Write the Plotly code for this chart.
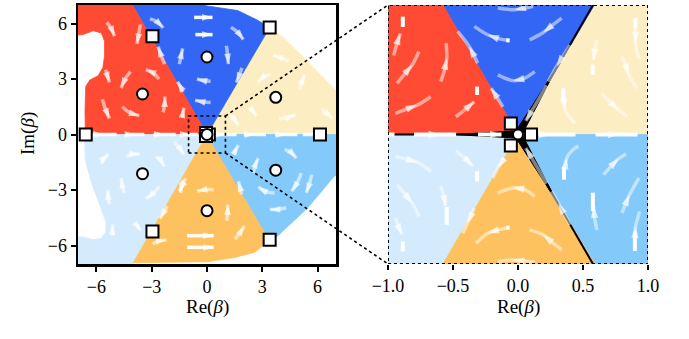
import plotly.graph_objects as go

# ---------------- data ----------------
# region colours
COL_RED = "#FF4B33"
COL_BLUE = "#3366F5"
COL_CREAM = "#FDEDC3"
COL_LIGHT = "#D3EBFC"
COL_ORANGE = "#FDC25F"
COL_MID = "#83C9FA"

# region outlines (data units)
CREAM_X = [0, 7.5, 7.5, 6.9, 5.7, 4.2, 3.4]
CREAM_Y = [0, 0, 1.9, 2.47, 3.7, 5.2, 5.79]
BLUE_X = [0, 3.4, 2.7, 1.67, 0.0, -1.5, -4.33]
BLUE_Y = [0, 5.79, 6.2, 6.7, 6.95, 7.5, 7.5]
RED_X = [0, -4.33, -7.5, -7.5, -6.72, -6.18, -5.73, -5.56, -5.56, -5.65, -5.91, -6.36, -6.58, -6.62, -6.6]
RED_Y = [0, 7.5, 7.5, 5.35, 5.4, 5.61, 5.49, 5.04, 4.24, 3.62, 3.17, 2.94, 2.6, 1.3, 0]
LIGHT_X = [0, -6.6, -6.63, -6.6, -6.27, -5.82, -5.47, -5.5, -5.75, -6.2, -6.7, -7.5, -7.5, -4.33]
LIGHT_Y = [0, 0, -0.5, -1.37, -2.62, -3.87, -4.76, -5.3, -5.62, -5.68, -5.55, -5.5, -7.5, -7.5]
ORANGE_X = [0, -4.0, -2.0, 0.0, 1.5, 2.6, 3.4]
ORANGE_Y = [0, -6.93, -6.9, -6.88, -6.65, -6.36, -5.69]
MID_X = [0, 3.4, 3.85, 5.47, 6.9, 7.5, 7.5]
MID_Y = [0, -5.69, -5.47, -3.96, -2.26, -1.9, 0]

# critical points
CIRCLE_X = [-3.5, 0.0, 3.73, -3.5, 0.0, 3.73, 0.0]
CIRCLE_Y = [2.19, 4.19, 2.01, -2.12, -4.12, -1.93, 0.0]
SQUARE_X = [0.1, -0.055, -0.055, 6.13, 3.4, -2.96, -6.58, -2.96, 3.4]
SQUARE_Y = [0.0, 0.085, -0.085, 0.0, 5.79, 5.31, 0.0, -5.24, -5.69]

# black lines in the zoom panel: (end x, end y)
THIMBLE_ENDS = [(-1.05, 0.0), (0.6, 1.04), (0.6, -1.04)]
THIMBLE_WEDGE = [(-0.5, 0.0), (0.3, 0.52), (0.3, -0.52)]

# streamlines: (points, index of arrow head)
LEFT_STREAMS = [
    # red
    ([(-5.45, 6.05), (-5.2, 5.75), (-5.02, 5.31)], -1),
    ([(-3.62, 5.95), (-3.7, 5.45), (-3.8, 4.9)], -1),
    ([(-2.3, 3.8), (-2.5, 4.3), (-2.65, 4.75)], -1),
    ([(-5.5, 3.5), (-5.4, 3.15), (-5.29, 2.82)], -1),
    ([(-4.15, 3.4), (-4.45, 3.0), (-4.66, 2.51)], -1),
    ([(-2.6, 3.0), (-2.95, 3.35), (-3.32, 3.5)], -1),
    ([(-2.38, 1.2), (-2.3, 1.6), (-2.29, 2.05)], -1),
    ([(-4.6, 1.5), (-4.15, 1.15), (-3.67, 1.03)], -1),
    ([(-5.68, 1.9), (-5.5, 1.35), (-5.29, 0.86)], -1),
    ([(-1.3, 2.3), (-1.45, 2.6), (-1.6, 2.85)], -1),
    ([(-1.34, 0.95), (-1.3, 1.2), (-1.25, 1.45)], -1),
    # blue
    ([(1.3, 5.8), (1.7, 5.5), (1.97, 5.13)], -1),
    ([(1.05, 4.8), (1.12, 4.3), (1.16, 3.8)], -1),
    ([(-1.5, 3.8), (-1.42, 4.2), (-1.32, 4.65)], -1),
    ([(-3.1, 6.25), (-2.7, 6.1), (-2.38, 5.76)], -1),
    ([(0.2, 2.88), (-0.2, 2.92), (-0.55, 3.0)], -1),
    ([(0.2, 1.73), (-0.2, 1.76), (-0.65, 1.85)], -1),
    ([(1.9, 3.6), (1.75, 3.2), (1.6, 2.8)], -1),
    # cream
    ([(4.45, 3.95), (4.0, 4.15), (3.58, 4.28)], -1),
    ([(3.45, 3.25), (3.05, 3.1), (2.78, 2.82)], -1),
    ([(5.0, 2.4), (5.15, 2.85), (5.29, 3.26)], -1),
    ([(3.9, 0.85), (4.35, 0.9), (4.8, 1.07)], -1),
    ([(2.38, 1.5), (2.5, 1.25), (2.69, 1.0)], -1),
    ([(1.3, 1.05), (1.5, 0.8), (1.7, 0.5)], -1),
    ([(6.2, 1.35), (6.5, 1.15), (6.8, 0.86)], -1),
    # light blue
    ([(-5.75, -1.6), (-5.55, -1.25), (-5.32, -1.07)], -1),
    ([(-4.39, -1.2), (-4.0, -1.05), (-3.64, -1.05)], -1),
    ([(-2.78, -1.19), (-2.5, -1.4), (-2.33, -1.73)], -1),
    ([(-1.79, -0.39), (-1.5, -0.7), (-1.25, -1.11)], -1),
    ([(-4.48, -3.16), (-4.6, -2.75), (-4.66, -2.35)], -1),
    ([(-2.6, -2.8), (-2.95, -3.2), (-3.32, -3.48)], -1),
    ([(-5.29, -3.78), (-5.36, -3.4), (-5.38, -2.98)], -1),
    ([(-1.16, -2.35), (-1.3, -2.7), (-1.52, -3.07)], -1),
    ([(-2.15, -3.87), (-2.35, -4.2), (-2.56, -4.55)], -1),
    ([(-5.11, -5.47), (-5.13, -5.15), (-5.11, -4.85)], -1),
    ([(-3.8, -4.85), (-3.7, -5.05), (-3.58, -5.2)], -1),
    # orange
    ([(-2.96, -5.92), (-2.6, -5.75), (-2.2, -5.7)], -1),
    ([(0.36, -2.98), (-0.1, -2.98), (-0.54, -3.07)], -1),
    ([(1.08, -4.67), (1.12, -4.2), (1.13, -3.78)], -1),
    ([(-1.3, -2.45), (-1.38, -2.8), (-1.43, -3.16)], -1),
    ([(1.52, -5.65), (1.8, -5.3), (2.03, -4.94)], -1),
    ([(1.88, -3.24), (1.8, -2.9), (1.7, -2.53)], -1),
    # mid blue
    ([(1.43, -1.1), (1.55, -0.85), (1.7, -0.57)], -1),
    ([(2.51, -2.09), (2.62, -1.65), (2.78, -1.28)], -1),
    ([(4.21, -0.8), (4.55, -0.95), (4.84, -1.28)], -1),
    ([(5.11, -2.09), (4.9, -2.6), (4.6, -3.07)], -1),
    ([(3.67, -3.16), (3.2, -3.1), (2.78, -2.83)], -1),
    ([(4.3, -3.96), (3.85, -4.05), (3.41, -4.05)], -1),
    ([(5.68, -2.17), (5.55, -2.7), (5.38, -3.16)], -1),
]
LEFT_SOLID = [
    ([(-0.7, 6.33), (-0.2, 6.33), (0.3, 6.33)], -1),
    ([(-0.63, 5.4), (-0.15, 5.4), (0.3, 5.4)], -1),
    ([(-1.08, -5.47), (-0.35, -5.47), (0.36, -5.47)], -1),
    ([(-1.08, -6.1), (-0.35, -6.1), (0.36, -6.1)], -1),
    ([(-6.3, 0), (-5.6, 0), (-4.9, 0)], 1),
    ([(-4.4, 0), (-3.9, 0), (-3.4, 0)], 1),
    ([(-2.9, 0), (-2.3, 0), (-1.7, 0)], 1),
    ([(-1.3, 0), (-0.9, 0), (-0.5, 0)], 1),
    ([(0.5, 0), (1.0, 0), (1.6, 0)], 1),
    ([(2.0, 0), (2.6, 0), (3.2, 0)], 1),
    ([(3.7, 0), (4.3, 0), (4.9, 0)], 1),
    ([(5.2, 0), (5.5, 0), (5.8, 0)], None),
]
RIGHT_STREAMS = [
    # red
    ([(-0.956, 0.61), (-0.935, 0.69), (-0.905, 0.78)], -1),
    ([(-0.93, 0.395), (-0.87, 0.47), (-0.814, 0.537), (-0.762, 0.641)], 2),
    ([(-0.594, 0.408), (-0.565, 0.5), (-0.548, 0.589), (-0.553, 0.705)], 2),
    ([(-0.943, 0.163), (-0.86, 0.195), (-0.775, 0.227), (-0.672, 0.292)], 2),
    ([(-0.478, 0.137), (-0.41, 0.19), (-0.336, 0.253)], -1),
    ([(-0.31, 0.55), (-0.375, 0.68), (-0.465, 0.796)], 1),
    ([(-0.116, 0.214), (-0.16, 0.285), (-0.207, 0.357)], 2),
    # blue
    ([(0.116, 0.99), (-0.026, 0.964), (-0.155, 0.977)], 1),
    ([(-0.065, 0.726), (-0.15, 0.74), (-0.233, 0.77), (-0.336, 0.835)], 2),
    ([(0.336, 0.899), (0.26, 0.84), (0.194, 0.788), (0.09, 0.731)], 2),
    ([(0.129, 0.486), (0.04, 0.43), (-0.039, 0.416), (-0.155, 0.46)], 2),
    ([(0.40, 0.69), (0.35, 0.61), (0.297, 0.525), (0.233, 0.408)], 2),
    # cream
    ([(0.904, 0.83), (0.904, 0.705), (0.915, 0.64), (0.93, 0.589)], 1),
    ([(0.607, 0.731), (0.59, 0.65), (0.581, 0.576)], -1),
    ([(0.80, 0.60), (0.83, 0.53), (0.853, 0.46), (0.917, 0.357)], 2),
    ([(0.349, 0.3), (0.362, 0.189), (0.4, 0.13), (0.439, 0.085)], 1),
    ([(0.646, 0.318), (0.71, 0.25), (0.775, 0.189), (0.84, 0.137)], 2),
    # light blue
    ([(-0.943, -0.168), (-0.86, -0.19), (-0.775, -0.214), (-0.672, -0.284)], 2),
    ([(-0.478, -0.129), (-0.41, -0.18), (-0.349, -0.245)], -1),
    ([(-0.93, -0.388), (-0.87, -0.46), (-0.814, -0.53), (-0.762, -0.633)], 2),
    ([(-0.594, -0.40), (-0.57, -0.48), (-0.556, -0.556)], -1),
    ([(-0.943, -0.646), (-0.92, -0.71), (-0.891, -0.775)], -1),
    ([(-0.103, -0.181), (-0.155, -0.258), (-0.194, -0.336)], 1),
    ([(-0.336, -0.568), (-0.388, -0.685), (-0.426, -0.762)], 1),
    # orange
    ([(0.129, -0.478), (0.04, -0.42), (-0.039, -0.413), (-0.155, -0.452)], 2),
    ([(-0.065, -0.718), (-0.15, -0.735), (-0.233, -0.762), (-0.323, -0.84)], 2),
    ([(0.336, -0.891), (0.26, -0.83), (0.194, -0.775), (0.09, -0.736)], 2),
    ([(0.129, -0.987), (-0.039, -0.969), (-0.155, -0.982)], 1),
    ([(0.40, -0.698), (0.31, -0.53), (0.258, -0.439)], 1),
    # mid blue
    ([(0.354, -0.30), (0.375, -0.181), (0.42, -0.12), (0.465, -0.09)], 1),
    ([(0.659, -0.31), (0.72, -0.24), (0.775, -0.186), (0.832, -0.15)], 2),
    ([(0.607, -0.736), (0.59, -0.65), (0.581, -0.556)], -1),
    ([(0.80, -0.607), (0.83, -0.53), (0.858, -0.465), (0.93, -0.336)], 2),
    ([(0.899, -0.9), (0.9, -0.8), (0.904, -0.711), (0.92, -0.65), (0.935, -0.594)], 2),
    # along the black lines
    ([(0.22, 0.38), (0.14, 0.24), (0.06, 0.105)], -1),
    ([(0.22, -0.38), (0.14, -0.24), (0.06, -0.105)], -1),
]
RIGHT_SOLID = [
    ([(-0.886, 0.83), (-0.886, 0.91)], None),
    ([(-0.315, 0.305), (-0.315, 0.37)], None),
    ([(0.904, 0.9), (0.904, 0.82)], None),
    ([(0.574, 0.54), (0.574, 0.46)], None),
    ([(0.349, 0.357), (0.349, 0.24)], None),
    ([(-0.065, 0.726), (-0.09, 0.728)], None),
    ([(-0.315, -0.284), (-0.315, -0.362)], None),
    ([(-0.548, -0.56), (-0.548, -0.70)], None),
    ([(-0.886, -0.827), (-0.886, -0.904)], None),
    ([(-0.065, -0.718), (-0.09, -0.72)], None),
    ([(0.354, -0.25), (0.354, -0.349)], None),
    ([(0.576, -0.59), (0.576, -0.45)], None),
    ([(0.899, -0.9), (0.899, -0.75)], None),
    ([(-1.0, 0), (-0.95, 0)], None),
    ([(-0.8, 0), (-0.6, 0), (-0.476, 0)], 1),
    ([(-0.308, 0), (-0.2, 0), (-0.127, 0)], -1),
    ([(0.158, 0), (0.25, 0), (0.442, 0)], 1),
    ([(0.597, 0), (0.78, 0), (0.92, 0)], 1),
]

X_TICKS_L = [-6, -3, 0, 3, 6]
X_TICKTEXT_L = ["\u22126", "\u22123", "0", "3", "6"]
X_TICKS_R = [-1.0, -0.5, 0.0, 0.5, 1.0]
X_TICKTEXT_R = ["\u22121.0", "\u22120.5", "0.0", "0.5", "1.0"]

# ---------------- figure ----------------
FONT = "Liberation Serif"
W, H = 689, 339


def fx(px):
    return px / W


def fy(py):
    return 1 - py / H


DOM_L = [fx(78), fx(336)]
DOM_R = [fx(388), fx(648)]
DOM_Y = [fy(264), fy(5)]
RANGE_L = [-7, 7]
RANGE_R = [-1, 1]

fig = go.Figure()
LEFT = dict(xaxis="x", yaxis="y")
RIGHT = dict(xaxis="x2", yaxis="y2")

SECTORS = [(CREAM_X, CREAM_Y, COL_CREAM), (BLUE_X, BLUE_Y, COL_BLUE),
           (RED_X, RED_Y, COL_RED), (LIGHT_X, LIGHT_Y, COL_LIGHT),
           (ORANGE_X, ORANGE_Y, COL_ORANGE), (MID_X, MID_Y, COL_MID)]

for panel in (LEFT, RIGHT):
    for xs, ys, col in SECTORS:
        fig.add_trace(go.Scatter(x=xs + [xs[0]], y=ys + [ys[0]], mode="lines",
                                 fill="toself", fillcolor=col,
                                 line=dict(color=col, width=0.8),
                                 hoverinfo="skip", showlegend=False, **panel))

# black lines near the origin (zoom panel)
bx, by = [], []
for ex, ey in THIMBLE_ENDS:
    bx += [0, ex, None]
    by += [0, ey, None]
fig.add_trace(go.Scatter(x=bx, y=by, mode="lines", line=dict(color="black", width=2),
                         hoverinfo="skip", showlegend=False, **RIGHT))
for ex, ey in THIMBLE_WEDGE:
    n = (ex ** 2 + ey ** 2) ** 0.5
    px, py = -ey / n * 0.028, ex / n * 0.028
    fig.add_trace(go.Scatter(x=[px, ex, -px, px], y=[py, ey, -py, py], mode="lines",
                             fill="toself", fillcolor="black", line=dict(color="black", width=1),
                             hoverinfo="skip", showlegend=False, **RIGHT))


def add_streams(streams, panel, width, opacity, arrow_size, arrow_opacity):
    xs, ys, ax, ay, sz = [], [], [], [], []
    for pts, k in streams:
        xs += [p[0] for p in pts] + [None]
        ys += [p[1] for p in pts] + [None]
        if k is not None:
            k = k % len(pts)
            p0, p1 = pts[k - 1], pts[k]
            ax += [p0[0], p1[0]]
            ay += [p0[1], p1[1]]
            sz += [0, arrow_size]
    fig.add_trace(go.Scatter(x=xs, y=ys, mode="lines",
                             line=dict(color=f"rgba(255,255,255,{opacity})", width=width,
                                       shape="spline"),
                             hoverinfo="skip", showlegend=False, **panel))
    if ax:
        fig.add_trace(go.Scatter(x=ax, y=ay, mode="markers",
                                 marker=dict(symbol="arrow", size=sz, angleref="previous",
                                             color=f"rgba(255,255,255,{arrow_opacity})",
                                             line=dict(width=0)),
                                 hoverinfo="skip", showlegend=False, **panel))


add_streams(LEFT_STREAMS, LEFT, 3.5, 0.55, 11, 0.95)
add_streams(LEFT_SOLID, LEFT, 3.5, 0.95, 11, 1.0)
add_streams(RIGHT_STREAMS, RIGHT, 3.5, 0.5, 12, 0.95)
add_streams(RIGHT_SOLID, RIGHT, 4, 1.0, 12, 1.0)

for panel, ssz, csz in ((LEFT, 12, 11), (RIGHT, 12, 10)):
    fig.add_trace(go.Scatter(x=SQUARE_X, y=SQUARE_Y, mode="markers",
                             marker=dict(symbol="square", size=ssz, color="white",
                                         line=dict(color="black", width=2)),
                             hoverinfo="skip", showlegend=False, **panel))
    fig.add_trace(go.Scatter(x=CIRCLE_X, y=CIRCLE_Y, mode="markers",
                             marker=dict(symbol="circle", size=csz, color="white",
                                         line=dict(color="black", width=2)),
                             hoverinfo="skip", showlegend=False, **panel))

tickfont = dict(family=FONT, size=18, color="black")
common = dict(automargin=False, showgrid=False, zeroline=False, tickfont=tickfont,
              ticks="outside", ticklen=5, tickwidth=2, tickcolor="black")
fig.update_layout(
    template="none",
    width=W, height=H, margin=dict(l=0, r=0, t=0, b=0, autoexpand=False),
    paper_bgcolor="white", plot_bgcolor="white", showlegend=False,
    xaxis=dict(domain=DOM_L, range=RANGE_L, tickvals=X_TICKS_L, ticktext=X_TICKTEXT_L,
               showline=True, mirror=True, linecolor="black", linewidth=2.5,
               anchor="y", **common),
    yaxis=dict(domain=DOM_Y, range=RANGE_L, tickvals=X_TICKS_L, ticktext=X_TICKTEXT_L,
               showline=True, mirror=True, linecolor="black", linewidth=2.5,
               anchor="x", **common),
    xaxis2=dict(domain=DOM_R, range=RANGE_R, tickvals=X_TICKS_R, ticktext=X_TICKTEXT_R,
                showline=False, anchor="y2", **common),
    yaxis2=dict(domain=DOM_Y, range=RANGE_R, showticklabels=False, ticks="",
                showline=False, showgrid=False, zeroline=False, anchor="x2",
                automargin=False),
)


def to_paper_left(x, y):
    px = DOM_L[0] + (x - RANGE_L[0]) / (RANGE_L[1] - RANGE_L[0]) * (DOM_L[1] - DOM_L[0])
    py = DOM_Y[0] + (y - RANGE_L[0]) / (RANGE_L[1] - RANGE_L[0]) * (DOM_Y[1] - DOM_Y[0])
    return px, py


def to_paper_right(x, y):
    px = DOM_R[0] + (x - RANGE_R[0]) / (RANGE_R[1] - RANGE_R[0]) * (DOM_R[1] - DOM_R[0])
    py = DOM_Y[0] + (y - RANGE_R[0]) / (RANGE_R[1] - RANGE_R[0]) * (DOM_Y[1] - DOM_Y[0])
    return px, py


dot = dict(color="black", width=1.6, dash="dot")
shapes = [
    dict(type="rect", xref="x", yref="y", x0=-1, x1=1, y0=-1, y1=1, line=dot),
    dict(type="rect", xref="x2", yref="y2", x0=-1, x1=1, y0=-1, y1=1,
         line=dict(color="black", width=2, dash="dot")),
]
for yy in (1, -1):
    a = to_paper_left(1, yy)
    b = to_paper_right(-1, yy)
    shapes.append(dict(type="line", xref="paper", yref="paper", x0=a[0], y0=a[1],
                       x1=b[0], y1=b[1], line=dot))
fig.update_layout(shapes=shapes)

titlefont = dict(family=FONT, size=19, color="black")
fig.update_layout(annotations=[
    dict(text="Re(<i>β</i>)", xref="paper", yref="paper", x=sum(DOM_L) / 2, y=fy(307),
         showarrow=False, font=titlefont, xanchor="center", yanchor="middle"),
    dict(text="Re(<i>β</i>)", xref="paper", yref="paper", x=sum(DOM_R) / 2, y=fy(307),
         showarrow=False, font=titlefont, xanchor="center", yanchor="middle"),
    dict(text="Im(<i>β</i>)", xref="paper", yref="paper", x=fx(28), y=fy(134),
         showarrow=False, font=titlefont, textangle=-90, xanchor="center", yanchor="middle"),
])

# remove the browser's default page margin so the figure sits at the window's corner
fig.write_html("out.html", config={"displayModeBar": False, "staticPlot": True},
               post_script="document.body.style.margin='0px';document.body.style.overflow='hidden';")
